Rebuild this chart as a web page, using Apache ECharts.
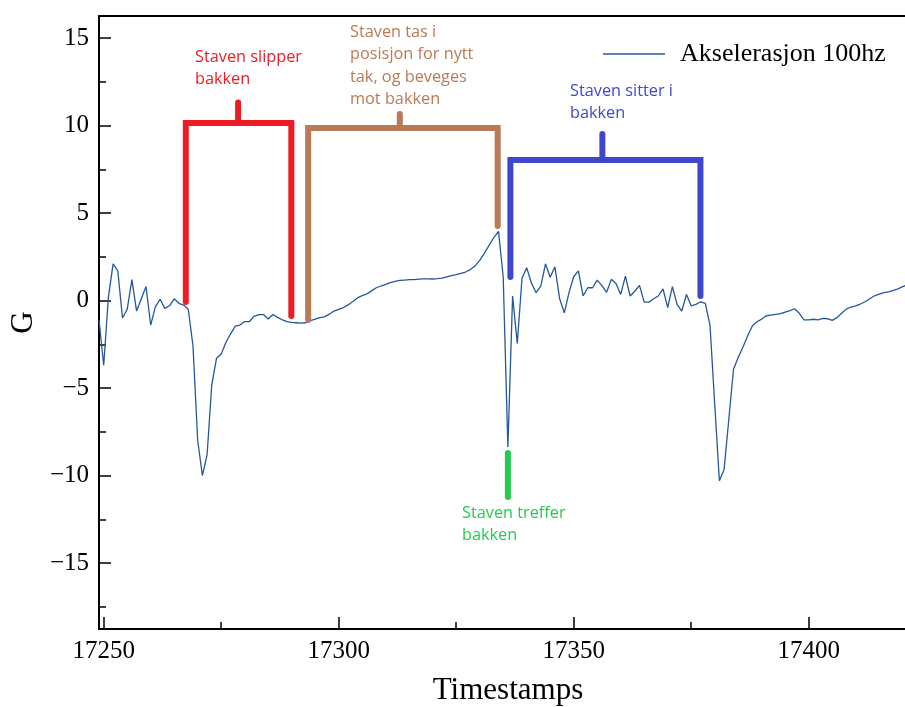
<!DOCTYPE html>
<html>
<head>
<meta charset="utf-8">
<title>Akselerasjon 100hz</title>
<script src="https://cdn.jsdelivr.net/npm/echarts@6/dist/echarts.min.js"></script>
<style>
  html, body { margin: 0; padding: 0; background: #ffffff; }
  #chart { width: 905px; height: 707px; }
</style>
</head>
<body>
<div id="chart"></div>
<script>
// Accelerometer samples (G), one per timestamp starting at firstTimestamp
const firstTimestamp = 17249;
const accel = [
  -1.1, -3.7, 0.2, 2.1, 1.7, -1.0, -0.5, 1.2, -0.6, 0.1,
  0.8, -1.4, -0.35, 0.07, -0.45, -0.3, 0.1, -0.16, -0.26, -0.5,
  -2.6, -8.0, -10.0, -8.8, -4.8, -3.3, -3.05, -2.4, -1.9, -1.46,
  -1.4, -1.2, -1.2, -0.9, -0.8, -0.8, -1.06, -0.8, -0.96, -1.1,
  -1.2, -1.25, -1.27, -1.29, -1.27, -1.15, -1.06, -0.98, -0.93, -0.78,
  -0.6, -0.5, -0.4, -0.25, -0.06, 0.15, 0.28, 0.38, 0.55, 0.73,
  0.83, 0.92, 1.02, 1.09, 1.15, 1.17, 1.19, 1.2, 1.22, 1.24,
  1.24, 1.23, 1.25, 1.28, 1.35, 1.42, 1.48, 1.55, 1.63, 1.77,
  1.97, 2.3, 2.7, 3.15, 3.6, 3.95, 1.36, -8.37, 0.26, -2.45,
  1.27, 1.87, 1.0, 0.45, 0.83, 2.1, 1.33, 1.93, 0.12, -0.7,
  0.45, 1.36, 1.69, 0.26, 0.73, 0.73, 1.17, 0.85, 0.47, 1.21,
  0.98, 0.35, 1.4, 0.26, 0.53, 0.87, -0.09, -0.09, 0.1, 0.26,
  0.67, -0.41, 0.79, -0.22, -0.6, 0.35, -0.31, -0.22, -0.07, -0.16,
  -1.4, -5.9, -10.3, -9.65, -6.8, -3.93, -3.25, -2.67, -2.03, -1.46,
  -1.21, -1.06, -0.87, -0.83, -0.79, -0.75, -0.66, -0.58, -0.47, -0.73,
  -1.11, -1.1, -1.07, -1.1, -1.02, -1.04, -1.13, -0.98, -0.73, -0.49,
  -0.37, -0.31, -0.2, -0.07, 0.1, 0.27, 0.37, 0.45, 0.5, 0.58,
  0.67, 0.79, 0.9
];

// Axis ticks
const xMajorTicks = [17250, 17300, 17350, 17400];
const xMinorTicks = [17275, 17325, 17375];
const yMajorTicks = [-15, -10, -5, 0, 5, 10, 15];
const yMinorTicks = [-17.5, -12.5, -7.5, -2.5, 2.5, 7.5, 12.5];

// Phase brackets, in data units (timestamp, G)
const bracketSlipper = [[17267.47, -0.09], [17267.47, 10.14], [17289.92, 10.14], [17289.92, -0.89]];
const bracketSlipperStem = [[17278.6, 10.14], [17278.6, 11.31]];
const bracketPosisjon = [[17293.5, -1.11], [17293.5, 9.86], [17333.83, 9.86], [17333.83, 4.26]];
const bracketPosisjonStem = [[17313.0, 9.86], [17313.0, 10.66]];
const bracketSitter = [[17336.53, 1.34], [17336.53, 8.03], [17376.97, 8.03], [17376.97, 0.26]];
const bracketSitterStem = [[17356.1, 8.03], [17356.1, 9.51]];
const markerTreffer = [[17336.0, -8.71], [17336.0, -11.23]];

const X_MIN = 17249, X_MAX = 17420.49;
const Y_MIN = -18.77, Y_MAX = 16.26;

const serif = 'Liberation Serif';
const sans = 'Open Sans';
const lineColor = '#23599a';

const RED = '#ed1c24', BROWN = '#b97a57', BLUE = '#3f48cc', GREEN = '#22cc4f';

const seriesData = accel.map((v, i) => [firstTimestamp + i, v]);

function annotationLine(points, color) {
  return {
    type: 'line',
    data: points,
    xAxisIndex: 0,
    yAxisIndex: 0,
    symbol: 'none',
    silent: true,
    z: 5,
    animation: false,
    clip: false,
    lineStyle: { color: color, width: 6, cap: 'round', join: 'miter' }
  };
}

const minus = (v) => String(v).replace('-', '\u2212');
const plain = (v) => String(v);

const chart = echarts.init(document.getElementById('chart'), null, { renderer: 'canvas' });

const noteFont = '16.3px "' + sans + '"';

const option = {
  backgroundColor: '#ffffff',
  animation: false,
  grid: { left: 99, right: 0, top: 16, bottom: 78, containLabel: false, outerBoundsMode: 'none' },
  legend: {
    data: ['Akselerasjon 100hz'],
    left: 598,
    top: 36,
    icon: 'rect',
    itemWidth: 62,
    itemHeight: 1.4,
    itemGap: 0,
    textStyle: { fontFamily: serif, fontSize: 26, color: '#000', padding: [0, 0, 0, 10] }
  },
  xAxis: [
    {
      type: 'value', position: 'bottom', min: X_MIN, max: X_MAX,
      axisLine: { show: true, onZero: false, lineStyle: { color: '#000', width: 2 } },
      axisTick: { show: true, inside: true, length: 12, customValues: xMajorTicks, lineStyle: { color: '#000', width: 1.5 } },
      axisLabel: { show: true, customValues: xMajorTicks, margin: 10, fontFamily: serif, fontSize: 25, color: '#000', formatter: plain },
      splitLine: { show: false },
      name: 'Timestamps', nameLocation: 'middle', nameGap: 46,
      nameTextStyle: { fontFamily: serif, fontSize: 31, color: '#000', padding: [0, 0, 0, 12] }
    },
    {
      type: 'value', position: 'bottom', min: X_MIN, max: X_MAX,
      axisLine: { show: false, onZero: false },
      axisTick: { show: true, inside: true, length: 7, customValues: xMinorTicks, lineStyle: { color: '#000', width: 1.5 } },
      axisLabel: { show: false },
      splitLine: { show: false }
    },
    {
      type: 'value', position: 'top', min: X_MIN, max: X_MAX,
      axisLine: { show: true, onZero: false, lineStyle: { color: '#000', width: 2 } },
      axisTick: { show: false },
      axisLabel: { show: false },
      splitLine: { show: false }
    }
  ],
  yAxis: [
    {
      type: 'value', position: 'left', min: Y_MIN, max: Y_MAX,
      axisLine: { show: true, onZero: false, lineStyle: { color: '#000', width: 2 } },
      axisTick: { show: true, inside: true, length: 12, customValues: yMajorTicks, lineStyle: { color: '#000', width: 1.5 } },
      axisLabel: { show: true, customValues: yMajorTicks, margin: 10, fontFamily: serif, fontSize: 25, color: '#000', formatter: minus },
      splitLine: { show: false },
      name: 'G', nameLocation: 'middle', nameGap: 55, nameRotate: 90,
      nameTextStyle: { fontFamily: serif, fontSize: 31, color: '#000' }
    },
    {
      type: 'value', position: 'left', min: Y_MIN, max: Y_MAX,
      axisLine: { show: false, onZero: false },
      axisTick: { show: true, inside: true, length: 7, customValues: yMinorTicks, lineStyle: { color: '#000', width: 1.5 } },
      axisLabel: { show: false },
      splitLine: { show: false }
    }
  ],
  series: [
    {
      name: 'Akselerasjon 100hz',
      type: 'line',
      data: seriesData,
      xAxisIndex: 0,
      yAxisIndex: 0,
      symbol: 'none',
      showSymbol: false,
      z: 3,
      lineStyle: { color: lineColor, width: 1.3 },
      itemStyle: { color: lineColor }
    },
    annotationLine(bracketSlipper, RED),
    annotationLine(bracketSlipperStem, RED),
    annotationLine(bracketPosisjon, BROWN),
    annotationLine(bracketPosisjonStem, BROWN),
    annotationLine(bracketSitter, BLUE),
    annotationLine(bracketSitterStem, BLUE),
    annotationLine(markerTreffer, GREEN)
  ],
  graphic: [
    { type: 'text', left: 195, top: 46, silent: true, z: 10,
      style: { text: 'Staven slipper\nbakken', fill: RED, font: noteFont, lineHeight: 22.5 } },
    { type: 'text', left: 350, top: 21, silent: true, z: 10,
      style: { text: 'Staven tas i\nposisjon for nytt\ntak, og beveges\nmot bakken', fill: BROWN, font: noteFont, lineHeight: 22.5 } },
    { type: 'text', left: 570, top: 80, silent: true, z: 10,
      style: { text: 'Staven sitter i\nbakken', fill: BLUE, font: noteFont, lineHeight: 22.5 } },
    { type: 'text', left: 462, top: 502, silent: true, z: 10,
      style: { text: 'Staven treffer\nbakken', fill: GREEN, font: noteFont, lineHeight: 22.5 } }
  ]
};

chart.setOption(option);
</script>
</body>
</html>
